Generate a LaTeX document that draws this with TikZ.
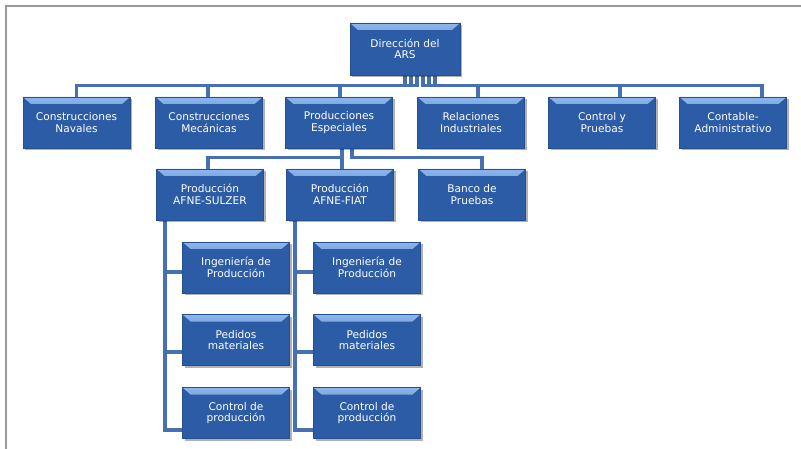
\documentclass[tikz,border=0pt]{standalone}
\usepackage{fontspec}
\setmainfont{DejaVu Sans}
\usetikzlibrary{shadows,calc,backgrounds}
\definecolor{boxblue}{HTML}{2C5CA6}
\definecolor{boxedge}{HTML}{24508F}
\definecolor{bevel}{HTML}{8DB6EC}
\definecolor{linkblue}{HTML}{4670B2}
\definecolor{framegray}{HTML}{9A9A9A}
\tikzset{
 orgbox/.style={draw=boxedge, line width=0.6pt, fill=boxblue, minimum width=107pt,
   minimum height=51pt, inner sep=0pt, align=center, text=white,
   font=\fontsize{10.6}{11.5}\selectfont,
   drop shadow={shadow xshift=2pt, shadow yshift=-2.5pt, opacity=0.3, fill=black},
   path picture={\shade[top color=bevel, bottom color=boxblue]
     (path picture bounding box.north west) -- (path picture bounding box.north east)
     -- ([xshift=-8pt,yshift=-7pt]path picture bounding box.north east)
     -- ([xshift=8pt,yshift=-7pt]path picture bounding box.north west) -- cycle;}},
 link/.style={draw=linkblue, line width=3.4pt},
 framestyle/.style={draw=framegray, line width=2pt}
}
\begin{document}
\begin{tikzpicture}[x=1pt,y=-1pt]
\useasboundingbox (0,0) rectangle (801,449);
\coordinate (fa) at (6,449);
\coordinate (fb) at (6,6);
\coordinate (fc) at (801,6);
\draw[framestyle] (fa) -- (fb) -- (fc);

\node[orgbox, minimum width=110pt, minimum height=52pt] (dir) at (405,49) {Dirección del\\ARS};

\node[orgbox] (t1) at (76.5,122.5) {Construcciones\\Navales};
\node[orgbox] (t2) at (209,122.5) {Construcciones\\Mecánicas};
\node[orgbox] (t3) at (339,122.5) {Producciones\\Especiales};
\node[orgbox] (t4) at (471,122.5) {Relaciones\\Industriales};
\node[orgbox] (t5) at (602,122.5) {Control y\\Pruebas};
\node[orgbox] (t6) at (733,122.5) {Contable-\\Administrativo};

\node[orgbox] (s1) at (210,194.5) {Producción\\AFNE-SULZER};
\node[orgbox] (s2) at (340,194.5) {Producción\\AFNE-FIAT};
\node[orgbox] (s3) at (472,194.5) {Banco de\\Pruebas};

\node[orgbox] (a1) at (236,267.5) {Ingeniería de\\Producción};
\node[orgbox] (a2) at (236,340) {Pedidos\\materiales};
\node[orgbox] (a3) at (236,413) {Control de\\producción};

\node[orgbox] (b1) at (367,267.5) {Ingeniería de\\Producción};
\node[orgbox] (b2) at (367,340) {Pedidos\\materiales};
\node[orgbox] (b3) at (367,413) {Control de\\producción};

\begin{scope}[on background layer]
\foreach \c/\dx/\off in {t1/0/0, t2/6/-1, t3/12/1, t4/18/7, t5/24/18, t6/30/29}{
  \draw[link] ($(dir.south)+(\dx,0)$) |- ($(\c.north)+(\off,-11)$) -- ($(\c.north)+(\off,0)$);
}
\foreach \c/\dx/\off in {s1/3/-2, s2/3/2, s3/13/10}{
  \draw[link] ($(t3.south)+(\dx,0)$) |- ($(\c.north)+(\off,-11)$) -- ($(\c.north)+(\off,0)$);
}
\foreach \c/\off in {a1/4.5, a2/12, a3/17}{
  \draw[link] ($(s1.south)+(-45,0)$) |- ($(\c.west)+(0,\off)$);
}
\foreach \c/\off in {b1/4.5, b2/12, b3/17}{
  \draw[link] ($(s2.south)+(-45,0)$) |- ($(\c.west)+(0,\off)$);
}
\end{scope}
\end{tikzpicture}
\end{document}
